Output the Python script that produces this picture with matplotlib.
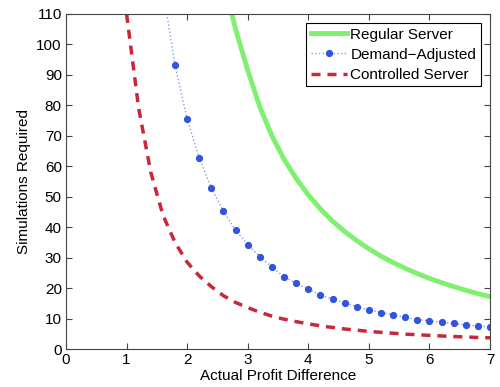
import matplotlib
matplotlib.use('Agg')
import matplotlib.pyplot as plt

plt.rcParams['font.family'] = ['Liberation Sans', 'DejaVu Sans']

# Regular server (solid green)
reg_x = [2.6, 2.8, 3.0, 3.2, 3.4, 3.6, 3.8, 4.0, 4.2, 4.4, 4.6, 4.8, 5.0,
         5.2, 5.4, 5.6, 5.8, 6.0, 6.2, 6.4, 6.6, 6.8, 7.0]
reg_y = [121, 105, 91.5, 79.5, 70, 62.3, 56, 50.6, 46, 42, 38.6, 35.6, 32.9,
         30.5, 28.4, 26.5, 24.8, 23.2, 21.8, 20.5, 19.3, 18.2, 17.2]

# Demand-adjusted (dotted blue with markers)
dem_x = [1.6, 1.8, 2.0, 2.2, 2.4, 2.6, 2.8, 3.0, 3.2, 3.4, 3.6, 3.8, 4.0, 4.2,
         4.4, 4.6, 4.8, 5.0, 5.2, 5.4, 5.6, 5.8, 6.0, 6.2, 6.4, 6.6, 6.8, 7.0]
dem_y = [118, 93.3, 75.5, 62.7, 52.8, 45.2, 39.0, 34.3, 30.3, 26.9, 23.7, 21.6,
         19.7, 17.7, 16.4, 15.2, 13.9, 12.9, 12.0, 11.3, 10.4, 9.7, 9.3, 8.8,
         8.4, 7.9, 7.5, 7.3]

# Controlled server (dashed red)
ctl_x = [1.0, 1.2, 1.4, 1.6, 1.8, 2.0, 2.2, 2.4, 2.6, 2.8, 3.0, 3.2, 3.4, 3.6,
         3.8, 4.0, 4.2, 4.4, 4.6, 4.8, 5.0, 5.2, 5.4, 5.6, 5.8, 6.0, 6.2, 6.4,
         6.6, 6.8, 7.0]
ctl_y = [110, 79, 58, 44, 35, 28.5, 24, 20.5, 17.5, 15.3, 13.6, 12.1, 10.8, 9.8,
         9.0, 8.3, 7.6, 7.1, 6.6, 6.2, 5.8, 5.5, 5.2, 4.9, 4.7, 4.5, 4.3, 4.1,
         4.0, 3.8, 3.7]

fig = plt.figure(figsize=(5, 3.87), dpi=100)
ax = fig.add_axes([0.132, 0.098, 0.848, 0.866])

ax.plot(reg_x, reg_y, '-', color='#80f070', lw=3.5, label='Regular Server')
ax.plot(dem_x, dem_y, ':', color='#7f9cf0', lw=1.0, marker='o', ms=4.2,
        markerfacecolor='#3355dd', markeredgecolor='#3355dd',
        label='Demand\u2212Adjusted')
ax.plot(ctl_x, ctl_y, '--', color='#c8283c', lw=2.5, dashes=(2.6, 2),
        label='Controlled Server')

ax.set_xlim(0, 7)
ax.set_ylim(0, 110)
ax.set_xticks(range(0, 8))
ax.set_yticks(range(0, 111, 10))
ax.tick_params(direction='in', top=True, right=True, labelsize=11, length=4,
               color='#444444', pad=3)
for s in ax.spines.values():
    s.set_color('#444444')
    s.set_linewidth(0.8)

ax.set_xlabel('Actual Profit Difference', fontsize=11, labelpad=1)
ax.set_ylabel('Simulations Required', fontsize=11, labelpad=4)

leg = ax.legend(loc='upper right', fontsize=11, fancybox=False,
                edgecolor='black', framealpha=1, borderpad=0.3,
                labelspacing=0.4, handlelength=2.4, handletextpad=0.2,
                borderaxespad=0.6)
leg.get_frame().set_linewidth(0.8)

fig.savefig('out.png', dpi=100)
